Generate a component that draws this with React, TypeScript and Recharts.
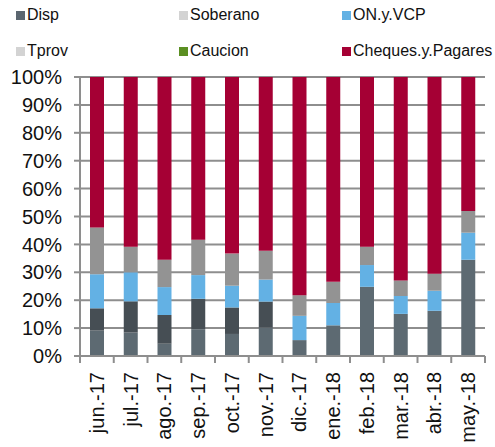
import React from "react";
import { BarChart, Bar, XAxis, YAxis, CartesianGrid } from "recharts";

const categories = ["jun.-17", "jul.-17", "ago.-17", "sep.-17", "oct.-17", "nov.-17", "dic.-17", "ene.-18", "feb.-18", "mar.-18", "abr.-18", "may.-18"];
const disp = [9.1, 8.4, 4.4, 9.6, 7.9, 10.2, 5.7, 11.0, 24.8, 15.1, 16.2, 34.5];
const soberano = [8.0, 11.2, 10.3, 10.9, 9.5, 9.3, 0, 0, 0, 0, 0, 0];
const onVcp = [12.2, 10.4, 10.0, 8.5, 7.8, 7.9, 8.7, 8.0, 7.8, 6.4, 7.2, 9.7];
const tprov = [16.8, 9.2, 9.8, 12.7, 11.5, 10.3, 7.4, 7.6, 6.6, 5.6, 6.1, 7.8];
const caucion = [0, 0, 0, 0, 0, 0, 0, 0, 0, 0, 0, 0];
const cheques = [53.9, 60.8, 65.5, 58.3, 63.3, 62.3, 78.2, 73.4, 60.8, 72.9, 70.5, 48.0];
const yTicks = [0, 0.1, 0.2, 0.3, 0.4, 0.5, 0.6, 0.7, 0.8, 0.9, 1];

const series = [
  { key: "Disp", values: disp, fill: "#5d6a72", legend: "#5b6670" },
  { key: "Soberano", values: soberano, fill: "#464e54", legend: "#d3d3d3" },
  { key: "ON.y.VCP", values: onVcp, fill: "#63b1e4", legend: "#63b1e4" },
  { key: "Tprov", values: tprov, fill: "#939393", legend: "#d3d3d3" },
  { key: "Caucion", values: caucion, fill: "#5b8f22", legend: "#5b8f22" },
  { key: "Cheques.y.Pagares", values: cheques, fill: "#a50034", legend: "#a50034" },
];

const data = categories.map((c, i) => {
  const row: Record<string, any> = { name: c };
  series.forEach((s) => (row[s.key] = s.values[i]));
  return row;
});

const W = 495;
const H = 447;
const LEFT = 80;
const RIGHT_M = 10;
const PLOT_W = W - LEFT - RIGHT_M;
const BAND = PLOT_W / categories.length;
const FONT = "'Liberation Sans', Arial, sans-serif";
const GRID = "#8e8e8e";

const XTick = (props: any) => {
  const { x, y, payload, index } = props;
  const isLast = index === categories.length - 1;
  return (
    <g>
      <line x1={x - BAND / 2} x2={x - BAND / 2} y1={y} y2={y + 7} stroke={GRID} strokeWidth={2} />
      {isLast && <line x1={x + BAND / 2} x2={x + BAND / 2} y1={y} y2={y + 7} stroke={GRID} strokeWidth={2} />}
      <text
        transform={`translate(${x},${y + 16}) rotate(-90)`}
        textAnchor="end"
        dominantBaseline="central"
        fontSize={20}
        fontFamily={FONT}
        fill="#111"
      >
        {payload.value}
      </text>
    </g>
  );
};

const legendCols = [16, 179, 342];
const legendRows = [15, 51];

export default function App() {
  return (
    <div style={{ position: "absolute", left: 0, top: 0, width: W, height: H, background: "#fff", fontFamily: FONT }}>
      <BarChart
        width={W}
        height={H}
        data={data}
        stackOffset="expand"
        margin={{ top: 77, right: RIGHT_M, bottom: 0, left: 0 }}
        barSize={14}
      >
        <CartesianGrid vertical={false} stroke={GRID} strokeWidth={2} />
        <XAxis
          dataKey="name"
          height={91}
          interval={0}
          tickLine={false}
          tickSize={0}
          tickMargin={0}
          axisLine={{ stroke: GRID, strokeWidth: 2 }}
          tick={<XTick />}
        />
        <YAxis
          width={LEFT}
          domain={[0, 1]}
          ticks={yTicks}
          interval={0}
          tickFormatter={(v: number) => `${Math.round(v * 100)}%`}
          tickSize={6}
          tickMargin={12}
          tickLine={{ stroke: GRID, strokeWidth: 2 }}
          axisLine={{ stroke: GRID, strokeWidth: 2 }}
          tick={{ fontSize: 20, fontFamily: FONT, fill: "#111" }}
        />
        {series.map((s) => (
          <Bar key={s.key} dataKey={s.key} stackId="a" fill={s.fill} isAnimationActive={false} />
        ))}
      </BarChart>
      {series.map((s, i) => {
        const col = i % 3;
        const row = Math.floor(i / 3);
        return (
          <div
            key={s.key}
            style={{
              position: "absolute",
              left: legendCols[col],
              top: legendRows[row] - 10,
              height: 20,
              display: "flex",
              alignItems: "center",
              fontSize: 16,
              color: "#111",
              whiteSpace: "nowrap",
            }}
          >
            <span style={{ display: "inline-block", width: 9, height: 9, background: s.legend, marginRight: 2 }} />
            <span>{s.key}</span>
          </div>
        );
      })}
    </div>
  );
}
